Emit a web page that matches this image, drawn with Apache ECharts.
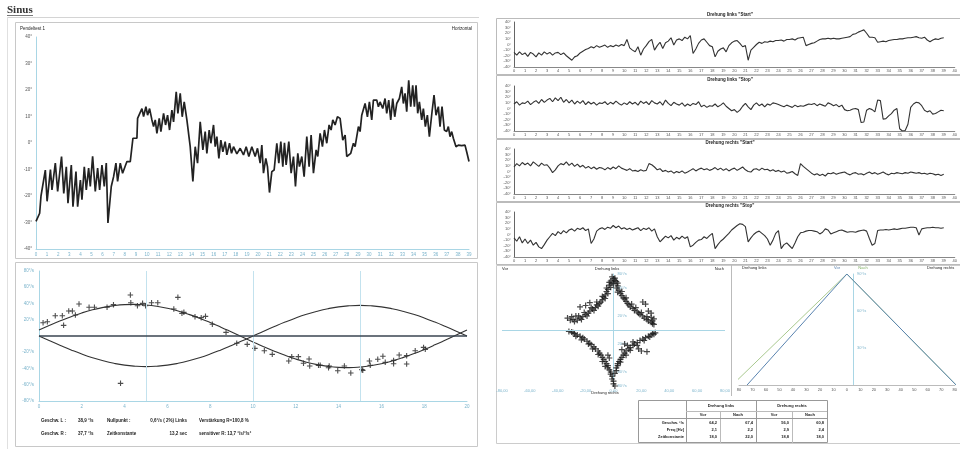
<!DOCTYPE html>
<html><head><meta charset="utf-8">
<script src="https://cdn.jsdelivr.net/npm/echarts@6/dist/echarts.min.js"></script>
<style>html,body{margin:0;padding:0;background:#fff}#c{width:960px;height:449px}</style>
</head><body><div id="c"></div>
<script>
// ---------- DATA ----------
const pendelTrace = [
[0,-29.6],[0.33,-26.5],[0.45,-20],[0.84,-10.2],[1.0,-22],[1.3,-10],[1.44,-17.7],[1.74,-7.6],[1.95,-18.3],[2.3,-5.1],[2.5,-19],[2.73,-9],[2.88,-22.7],[3.18,-8.3],[3.33,-24],[3.6,-10.8],[3.75,-24],[4.0,-14],[4.14,-21.4],[4.35,-9],[4.53,-17.7],[4.74,-9.5],[4.89,-16.4],[5.1,-5],[5.34,-18.3],[5.55,-9.5],[5.73,-17.7],[5.94,-8.3],[6.15,-16.4],[6.33,-7.6],[6.48,-30.2],[6.78,-16.4],[6.99,-12.7],[7.2,-7.6],[7.35,-14.5],[7.59,-7.6],[7.8,-11.4],[8.19,-7],[8.49,-7],[8.73,1.8],[9.09,1.8],[9.15,9.3],[9.33,8.7],[9.54,13],[9.69,10],[9.9,13.7],[10.05,10.5],[10.23,13],[10.44,8.7],[10.59,6.2],[10.74,8.7],[10.89,3.6],[11.1,9.3],[11.25,4.3],[11.49,11.2],[11.67,6.8],[11.85,10.5],[12.03,4.9],[12.24,12.4],[12.39,8],[12.63,19.3],[12.78,11.2],[12.99,18.7],[13.17,9.9],[13.35,15.5],[13.59,8.7],[13.89,-1.4],[14.13,-14.5],[14.34,-1.4],[14.55,-7.6],[14.79,8],[15.03,-2.6],[15.24,4.3],[15.39,-3.9],[15.6,4.9],[15.75,-0.1],[15.99,6.8],[16.14,-1.4],[16.29,2.4],[16.47,-5.8],[16.65,1.1],[16.83,-3.3],[17.04,0.5],[17.19,-4.5],[17.43,-0.1],[17.61,-3.9],[17.79,-1.4],[18.09,-4.1],[18.39,-2],[18.69,-4.5],[18.93,-1.4],[19.17,-5.1],[19.44,-1.4],[19.74,-5.1],[19.95,-2],[20.19,-7.6],[20.34,-0.8],[20.49,-11.4],[20.7,-5.8],[20.85,-8.9],[21.03,-18.7],[21.24,-10.8],[21.45,-10.2],[21.69,-0.1],[21.87,-7.6],[22.05,0.5],[22.23,-8.9],[22.38,0.1],[22.53,-8.3],[22.77,0.5],[22.98,-11.4],[23.19,-5.1],[23.37,-16.4],[23.58,-3.9],[23.73,-8.9],[23.94,-5.1],[24.15,-12.7],[24.39,2.4],[24.6,-8.9],[24.78,3],[24.99,-11.4],[25.23,-2.6],[25.38,-5.1],[25.59,3.6],[25.8,-1.4],[25.98,4.9],[26.19,-0.1],[26.4,6.8],[26.58,4.9],[26.73,8.7],[26.94,6.8],[27.15,9.9],[27.39,9.3],[27.63,1.1],[27.84,3],[27.99,-5.1],[28.35,-3.9],[28.59,-0.1],[28.74,-1.4],[29.04,6.2],[29.19,4.3],[29.34,10.5],[29.49,11.2],[29.64,14.9],[29.85,9.9],[30.03,15.5],[30.24,8.7],[30.39,16.2],[30.69,16.2],[30.84,13.7],[30.99,15.5],[31.23,13],[31.44,16.8],[31.59,11.2],[31.77,16.2],[31.95,8.7],[32.13,16.8],[32.31,9.9],[32.49,14.9],[32.73,16.8],[32.94,21.2],[33.09,14.9],[33.24,18.7],[33.39,11.8],[33.57,23.7],[33.75,13.7],[33.93,21.8],[34.08,13.7],[34.23,21.8],[34.38,11.2],[34.53,15.5],[34.74,8.7],[34.89,13],[35.07,6.2],[35.25,10.5],[35.43,2.4],[35.67,11.8],[35.85,18.1],[36.03,10.5],[36.24,13.7],[36.39,6.2],[36.57,13.7],[36.78,4.9],[36.99,4.3],[37.14,6.2],[37.29,2.4],[37.44,4.3],[37.59,1.8],[37.83,-1.4],[38.04,-0.8],[38.34,-1],[38.64,-0.8],[38.79,-3.3],[38.91,-2.7],[39.0,-7]
];

const sineX = [0,0.5,1,1.5,2,2.5,3,3.5,4,4.5,5,5.5,6,6.5,7,7.5,8,8.5,9,9.5,10,10.5,11,11.5,12,12.5,13,13.5,14,14.5,15,15.5,16,16.5,17,17.5,18,18.5,19,19.5,20];
const fitL = [7.3,13.2,18.7,23.8,28.4,32.2,35.2,37.4,38.6,38.9,38.2,36.6,34.1,30.7,26.6,21.9,16.6,10.9,4.9,-1.2,-7.3,-13.2,-18.7,-23.8,-28.4,-32.2,-35.2,-37.4,-38.6,-38.9,-38.2,-36.6,-34.1,-30.7,-26.6,-21.9,-16.6,-10.9,-4.9,1.2,7.3];
const fitR = [0,-5.9,-11.6,-17.1,-22.2,-26.7,-30.5,-33.6,-35.9,-37.2,-37.7,-37.2,-35.9,-33.6,-30.5,-26.7,-22.2,-17.1,-11.6,-5.9,0,5.9,11.6,17.1,22.2,26.7,30.5,33.6,35.9,37.2,37.7,37.2,35.9,33.6,30.5,26.7,22.2,17.1,11.6,5.9,0];
const sinePoints = [
[0.19,16.4],[0.39,17.6],[0.76,25],[1.09,25],[1.15,13.1],[1.39,30.8],[1.56,30.8],[1.7,25.8],[1.87,39.4],[2.34,35.3],[2.59,35.3],[3.18,35.3],[3.48,38.6],[3.81,-58.3],[4.27,50.5],[4.29,41],[4.6,37.3],[4.84,40.2],[4.98,37.3],[5.26,41],[5.55,41],[6.3,33.2],[6.49,47.6],[6.68,27.9],[6.77,29.1],[7.29,23.8],[7.58,22.6],[7.78,24.2],[8.1,14.4],[8.74,4.5],[9.24,-9],[9.73,-10.3],[10.09,-15.2],[10.53,-18.1],[10.9,-22.6],[11.67,-30.8],[11.81,-25.4],[12.12,-25.4],[12.36,-33.6],[12.62,-28.3],[12.65,-36.9],[13.06,-36.1],[13.14,-36.1],[13.53,-39],[13.56,-36.9],[13.96,-42.7],[14.27,-36.9],[14.57,-45.5],[15.09,-41.4],[15.13,-42.3],[15.44,-30.8],[15.48,-36.1],[15.83,-28.7],[16.07,-25],[16.18,-32.4],[16.57,-34.1],[16.57,-30],[16.83,-23.4],[17.18,-24.2],[17.18,-34.5],[17.58,-18.1],[17.97,-14],[18.05,-16.4]
];

const stripTitles = ['Drehung links "Start"','Drehung links "Stop"','Drehung rechts "Start"','Drehung rechts "Stop"'];
const stripStep = 0.25;
const linksStart = [
-14,-19,-13,-18, -15,-21,-14,-17, -22,-15,-19,-13, -17,-14,-19,-15, -14,-18,-15,-20,
-24,-28,-22,-20, -15,-12,-9,-7, -4,-6,-2,-5, -3,-1,-5,-2, -4,-1,-3,0,
-2,9,-6,-10, -13,-4,-19,-8, -2,5,9,-10, -2,4,-7,3, 6,12,-1,8,
10,7,13,10, 16,-16,-8,2, 8,10,4,-2, -4,-22,-12,-8, -6,-13,-2,3,
6,7,2,-4, -2,-28,-10,-5, 0,4,2,5, 4,6,5,7, 7,8,6,9,
9,10,8,11, 12,13,-2,0, 2,3,6,9, 10,10,11,10, 11,10,10,11,
12,13,14,18, 19,22,24,26, 20,13,13,12, 4,5,6,5, 7,8,9,9,
10,10,11,12, 12,13,14,12, 11,13,8,5, 8,10,9,11, 12];
const linksStop = [
8,12,6,10, 9,13,7,11, 14,9,16,11, 15,18,12,19, 14,20,11,16,
10,15,8,13, 9,14,7,12, 8,11,6,10, 9,12,7,11, 8,13,9,6,
10,7,12,8, 11,6,13,9, 12,7,14,10, 8,12,6,15, 9,5,11,8,
6,10,4,8, 5,9,7,12, 3,6,2,5, 4,8,3,6, 10,4,0,-4,
-2,-7,-3,4, 9,3,-2,6, 10,5,8,3, 8,6,10,9, 7,5,3,6,
4,2,6,3, 5,4,6,8, 7,9,5,8, 6,4,10,8, 5,7,3,6,
-2,-4,-3,-1, 0,-2,-25,-24, -3,0,-2,-6, 15,14,-19,-18, -13,-9,-3,0,
-36,-40,-39,-28, 2,8,11,10, 5,-3,-6,-4, -10,-9,-6,-3, -4];
const rechtsStart = [
8,14,10,16, 12,15,10,17, 13,9,15,11, 12,6,-2,3, 10,14,12,17,
11,15,9,13, 8,11,6,9, 5,8,4,7, 6,3,7,4, 8,5,10,6,
4,2,5,1, 2,0,3,1, 2,14,12,8, 3,5,0,2, -1,1,-3,0,
-2,1,-3,-1, 2,5,1,4, 6,3,5,2, 4,7,3,6, 2,5,1,4,
6,2,5,8, 3,0,-1,4, 5,2,6,3, 4,1,3,0, 2,-1,1,-3,
-2,0,-4,-7, 14,9,5,1, -3,-6,-4,-7, -5,-8,-3,-4, -2,-5,-3,-2,
-1,-4,-6,-3, -2,-5,-4,-6, -3,-1,-4,-2, -5,-3,-1,-4, -6,-3,-4,-2,
-3,-4,-2,-3, -1,-2,-3,-2, -4,-3,-5,-3, -4,-6,-5,-7, -5];
const rechtsStop = [
-6,-12,-4,-15, -8,-16,-10,-19, -14,-22,-25,-18, -10,-4,2,-2, 5,1,7,3,
8,10,6,11, 9,12,7,10, -16,-8,6,10, 12,9,13,11, 16,12,15,10,
12,9,11,8, 10,12,7,11, 9,12,6,10, -4,-13,-8,-3, -6,-2,-10,-5,
-8,-3,-7,-4, -22,-19,-14,-10, -9,-4,-7,-2, 2,-25,-18,-12, -8,-3,2,8,
12,16,19,18, 14,-13,-6,0, 4,6,2,-2, -8,-19,-10,2, 7,-25,-18,-15,
-20,-25,-15,-4, 3,4,6,7, 7,6,5,1, 4,10,8,1, 3,5,7,8,
6,4,5,5, 4,6,7,8, 6,-7,-19,-16, 7,8,8,9, 8,9,10,9,
10,11,11,12, 13,13,12,-1, 10,11,12,12, 13,12,12,11, 12];
const stripData = [linksStart, linksStop, rechtsStart, rechtsStop];

const butterflyPoints = [
[-1,76],[0,73],[-2,70],[1,71],[-1,67],[-3,64],[-2,61],[-4,58],[-5,55],[-4,52],[-6,50],[-7,47],[-6,45],[-8,43],[-9,40],[-10,38],[-12,36],[-11,34],[-13,32],[-15,30],[-14,28],[-17,27],[-18,24],[-20,22],[-19,20],[-22,19],[-24,17],[-23,15],[-26,14],[-28,12],[-30,19],[-33,17],[-31,14],[-20,35],[-24,33],[-17,39],[-27,20],
[-3,68],[-5,60],[-8,48],[-12,40],[-16,32],[-21,25],[-25,20],[-29,15],
[1,74],[2,69],[0,66],[3,63],[2,60],[4,57],[3,54],[5,52],[6,49],[7,46],[8,44],[9,41],[10,38],[11,36],[12,33],[14,31],[15,28],[17,26],[18,24],[19,22],[21,20],[22,17],[24,15],[25,13],[27,11],[28,9],[29,8],[21,40],[23,37],[25,27],[27,24],[29,16],[27,18],
[3,67],[6,55],[9,46],[13,37],[16,32],[20,25],[24,19],[28,13],
[-32,-2],[-30,-3],[-28,-5],[-29,-4],[-26,-7],[-24,-9],[-22,-11],[-21,-13],[-19,-16],[-17,-19],[-16,-21],[-14,-24],[-13,-27],[-11,-30],[-10,-33],[-9,-36],[-8,-39],[-7,-42],[-6,-45],[-5,-48],[-4,-51],[-4,-54],[-3,-57],[-2,-60],[-2,-63],[-1,-66],[-1,-70],[0,-73],[0,-77],[1,-80],[-1,-84],[-4,-36],[-3,-40],
[-27,-9],[-23,-14],[-18,-20],[-15,-27],[-11,-35],[-8,-45],[-6,-52],
[30,-4],[29,-6],[27,-7],[28,-5],[25,-9],[23,-11],[21,-13],[19,-15],[17,-18],[15,-20],[14,-22],[12,-25],[11,-27],[9,-30],[8,-33],[7,-36],[6,-39],[5,-42],[4,-45],[3,-48],[3,-51],[2,-54],[2,-58],[1,-62],[10,-22],[14,-17],[20,-30],[24,-31],[18,-27],[8,-20],[6,-28],
[26,-10],[22,-15],[17,-22],[12,-29],[9,-36],[5,-46]
];

const triVor = [[-74,0],[0,90],[81,0]];
const triNach = [[-85,0],[0,90],[81,0]];

const statsRow1 = ['Geschw. L :','38,9 °/s','Nullpunkt :','0,6°/s ( 2%) Links','Verstärkung R=100,8 %'];
const statsRow2 = ['Geschw. R :','37,7 °/s','Zeitkonstante','13,2 sec','sensitiver R: 13,7 °/s/°/s²'];

const tableGroups = ['Drehung links','Drehung rechts'];
const tableCols = ['Vor','Nach','Vor','Nach'];
const tableRows = ['Geschw. °/s','Freq [Hz]','Zeitkonstante'];
const tableVals = [['64,2','67,4','56,0','60,8'],['2,1','2,2','2,9','2,4'],['18,0','22,0','18,8','18,0']];

// ---------- CHART ----------
const F = "'Liberation Sans', Arial, sans-serif";
const LB = '#a9d6e5';
const plus = 'path://M4,0h2v4h4v2h-4v4h-2v-4h-4v-2h4z';
const chart = echarts.init(document.getElementById('c'));

const grids = [
  {left:36, top:37, width:433, height:212},
  {left:39, top:271, width:428, height:130},
  {left:514, top:22, width:452, height:45},
  {left:514, top:86, width:452, height:45},
  {left:514, top:149, width:452, height:45},
  {left:514, top:212, width:452, height:45},
  {left:502, top:274, width:223, height:112},
  {left:739, top:274, width:228, height:111}
];
const noSplit = {show:false};
const xAxes = [
  {gridIndex:0, type:'value', min:0, max:39, interval:1, axisLine:{onZero:false, lineStyle:{color:LB}}, axisTick:{show:false}, splitLine:noSplit,
   axisLabel:{fontSize:4.5, color:'#7ab3cb', margin:3, fontFamily:F}},
  {gridIndex:1, type:'value', min:0, max:20, interval:2, axisLine:{onZero:false, lineStyle:{color:LB}}, axisTick:{show:false}, splitLine:noSplit,
   axisLabel:{fontSize:4.5, color:'#7ab3cb', margin:3, fontFamily:F}}
];
const yAxes = [
  {gridIndex:0, type:'value', min:-40, max:40, interval:10, axisLine:{show:true, onZero:false, lineStyle:{color:LB}}, axisTick:{show:false}, splitLine:noSplit,
   axisLabel:{fontSize:4.5, color:'#555', margin:4, fontFamily:F, formatter:v=>v+'°'}},
  {gridIndex:1, type:'value', min:-80, max:80, interval:20, axisLine:{show:true, onZero:false, lineStyle:{color:LB}}, axisTick:{show:false}, splitLine:noSplit,
   axisLabel:{fontSize:4.5, color:'#7ab3cb', margin:5, fontFamily:F, formatter:v=>v===0?'':v+'°/s'}}
];
for (let i=0;i<4;i++){
  xAxes.push({gridIndex:2+i, type:'value', min:0, max:40, interval:1, axisLine:{onZero:false, lineStyle:{color:'#888'}}, axisTick:{show:false}, splitLine:noSplit,
    axisLabel:{fontSize:4, color:'#555', margin:2, fontFamily:F}});
  yAxes.push({gridIndex:2+i, type:'value', min:-40, max:40, interval:10, axisLine:{show:true, onZero:false, lineStyle:{color:'#666'}}, axisTick:{show:false}, splitLine:noSplit,
    axisLabel:{fontSize:4, color:'#555', margin:3, fontFamily:F, formatter:v=>v+'°'}});
}
xAxes.push({gridIndex:6, type:'value', min:-80, max:80, interval:20, axisLine:{show:false, onZero:false}, axisTick:{show:false}, splitLine:noSplit,
  axisLabel:{fontSize:4, color:'#7ab3cb', margin:3, fontFamily:F, formatter:v=>v.toFixed(2).replace('.',',')}});
yAxes.push({gridIndex:6, type:'value', min:-80, max:80, interval:20, position:'left', offset:-111.5, axisLine:{show:true, onZero:false, lineStyle:{color:LB}}, axisTick:{show:false}, splitLine:noSplit,
  axisLabel:{inside:true, fontSize:4, color:'#7ab3cb', margin:4, fontFamily:F, formatter:v=>(v===0||Math.abs(v)===40)?'':Math.abs(v)+'°/s'}});
xAxes.push({gridIndex:7, type:'value', min:-80, max:80, interval:10, axisLine:{onZero:false, lineStyle:{color:'#bbb'}}, axisTick:{show:false}, splitLine:noSplit,
  axisLabel:{fontSize:4, color:'#555', margin:3, fontFamily:F, formatter:v=>Math.abs(v)}});
yAxes.push({gridIndex:7, type:'value', min:0, max:90, interval:30, position:'left', offset:-114, axisLine:{show:true, onZero:false, lineStyle:{color:LB}}, axisTick:{show:false}, splitLine:noSplit,
  axisLabel:{inside:true, fontSize:4, color:'#7ab3cb', margin:4, fontFamily:F, formatter:v=>v===0?'':v+'°/s'}});

const series = [
  {type:'line', xAxisIndex:0, yAxisIndex:0, data:pendelTrace, symbol:'none', lineStyle:{color:'#222', width:1.7}},
  {type:'line', xAxisIndex:1, yAxisIndex:1, data:sineX.map((x,i)=>[x,fitL[i]]), symbol:'none', smooth:true, lineStyle:{color:'#333', width:1.1},
   markLine:{silent:true, symbol:'none', label:{show:false}, lineStyle:{color:'#c3e2ee', type:'solid', width:1}, data:[{xAxis:5},{xAxis:10},{xAxis:15}]}},
  {type:'line', xAxisIndex:1, yAxisIndex:1, data:sineX.map((x,i)=>[x,fitR[i]]), symbol:'none', smooth:true, lineStyle:{color:'#333', width:1.1},
   markLine:{silent:true, symbol:'none', label:{show:false}, lineStyle:{color:'#3a4450', type:'solid', width:1.5}, data:[{yAxis:0}]}},
  {type:'scatter', xAxisIndex:1, yAxisIndex:1, data:sinePoints, symbol:plus, symbolSize:5.5, itemStyle:{color:'#222'}}
];
stripData.forEach((arr,i)=>{
  series.push({type:'line', xAxisIndex:2+i, yAxisIndex:2+i, data:arr.map((v,k)=>[k*stripStep, v]), symbol:'none', lineStyle:{color:'#333', width:1.1}});
});
series.push({type:'scatter', xAxisIndex:6, yAxisIndex:6, data:butterflyPoints, symbol:plus, symbolSize:6, itemStyle:{color:'#1a1a1a'},
  markLine:{silent:true, symbol:'none', label:{show:false}, lineStyle:{color:LB, type:'solid', width:1}, data:[{yAxis:0}]}});
series.push({type:'line', xAxisIndex:7, yAxisIndex:7, data:triNach, symbol:'none', lineStyle:{color:'#a9c98f', width:1}});
series.push({type:'line', xAxisIndex:7, yAxisIndex:7, data:triVor, symbol:'none', lineStyle:{color:'#5a84b0', width:1}});

// ---------- DECORATION / TEXT ----------
const g = [];
const line = (x1,y1,x2,y2,c,w)=>g.push({type:'line', silent:true, shape:{x1,y1,x2,y2}, style:{stroke:c||'#c8c8c8', lineWidth:w||1}});
const rect = (x,y,w,h,c)=>g.push({type:'rect', silent:true, shape:{x,y,width:w,height:h}, style:{fill:'none', stroke:c||'#c8c8c8', lineWidth:1}});
const text = (t,x,y,opt)=>g.push({type:'text', silent:true, x, y, style:Object.assign({text:t, font:'4.5px '+F, fill:'#222', textAlign:'left', textVerticalAlign:'middle'}, opt||{})});

text('Sinus', 7, 10, {font:'bold 11px "Liberation Serif", serif', fill:'#333'});
line(7,15.5,33,15.5,'#555',0.8);
line(7,17.5,479,17.5,'#d4d4d4');
line(7.5,17,7.5,449,'#e0e0e0');
rect(15.5,22.5,462,236);
rect(15.5,262.5,462,184);
text('Pendeltest 1', 20, 29, {font:'4.5px '+F});
text('Horizontal', 472, 29, {textAlign:'right'});
const c1 = [41,78,107,187,199], al1 = ['left','left','left','right','left'];
statsRow1.forEach((t,i)=>text(t, c1[i], 421, {font:'bold 4.5px '+F, textAlign:al1[i]}));
statsRow2.forEach((t,i)=>text(t, c1[i], 434, {font:'bold 4.5px '+F, textAlign:al1[i]}));

// right panels
rect(496.5,18.5,470,56,'#bbb');
rect(496.5,75.5,470,63,'#bbb');
rect(496.5,139.5,470,62,'#bbb');
rect(496.5,202.5,470,62,'#bbb');
rect(496.5,265.5,470,178,'#ccc');
line(731.5,265,731.5,396,'#bbb');
const titleY = [15,80,143,206];
stripTitles.forEach((t,i)=>text(t, 730, titleY[i], {font:'bold 4.5px '+F, textAlign:'center'}));

text('Vor', 502, 269, {font:'4px '+F});
text('Drehung links', 607, 269, {font:'4px '+F, textAlign:'center'});
text('Nach', 724, 269, {font:'4px '+F, textAlign:'right'});
text('Drehung rechts', 605, 393, {font:'4px '+F, textAlign:'center'});
text('Drehung links', 742, 268, {font:'4px '+F});
text('Vor', 837, 268, {font:'4px '+F, fill:'#5a84b0', textAlign:'center'});
text('Nach', 863, 268, {font:'4px '+F, fill:'#7fae62', textAlign:'center'});
text('Drehung rechts', 927, 268, {font:'4px '+F});

// table
rect(638.5,400.5,189,42,'#999');
line(686.5,400,686.5,443,'#999');
line(756.5,400,756.5,443,'#999');
line(720.5,411,720.5,443,'#bbb');
line(792.5,411,792.5,443,'#bbb');
line(686,411.5,827,411.5,'#bbb');
line(638,418.5,827,418.5,'#999');
text(tableGroups[0], 721, 406, {font:'bold 4px '+F, textAlign:'center'});
text(tableGroups[1], 792, 406, {font:'bold 4px '+F, textAlign:'center'});
const colC = [703,738,774,810], colR = [717,753,789,824], rowY = [423,430,437];
tableCols.forEach((t,i)=>text(t, colC[i], 414.8, {font:'bold 4px '+F, textAlign:'center'}));
tableRows.forEach((t,r)=>{
  text(t, 684, rowY[r], {font:'bold 4px '+F, textAlign:'right'});
  tableVals[r].forEach((v,c)=>text(v, colR[c], rowY[r], {font:'bold 4px '+F, textAlign:'right'}));
});

chart.setOption({
  backgroundColor:'#fff',
  animation:false,
  grid:grids,
  xAxis:xAxes,
  yAxis:yAxes,
  series:series,
  graphic:g
});
</script></body></html>
